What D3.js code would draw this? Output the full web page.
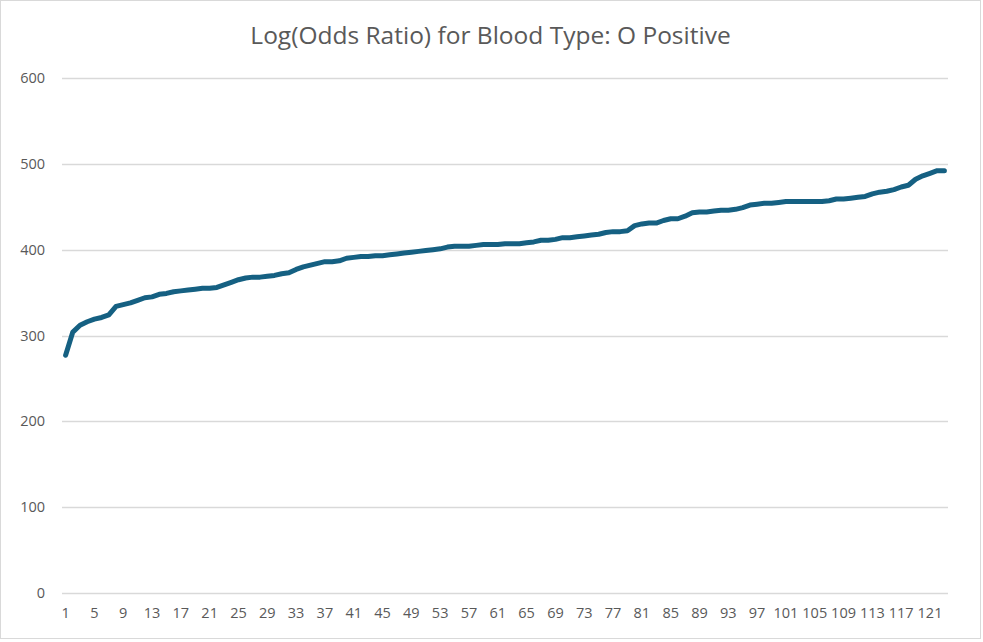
<!DOCTYPE html>
<html>
<head>
<meta charset="utf-8">
<script src="https://cdn.jsdelivr.net/npm/d3@7"></script>
<style>
  body { margin: 0; background: #fff; }
  text { font-family: "Open Sans", "Noto Sans", sans-serif; fill: #595959; }
</style>
</head>
<body>
<div id="vis"></div>
<script>
// chart values
var title = "Log(Odds Ratio) for Blood Type: O Positive";

var values = [
  277, 304, 312, 316, 319, 321, 324, 334, 336, 338,
  341, 344, 345, 348, 349, 351, 352, 353, 354, 355,
  355, 356, 359, 362, 365, 367, 368, 368, 369, 370,
  372, 373, 377, 380, 382, 384, 386, 386, 387, 390,
  391, 392, 392, 393, 393, 394, 395, 396, 397, 398,
  399, 400, 401, 403, 404, 404, 404, 405, 406, 406,
  406, 407, 407, 407, 408, 409, 411, 411, 412, 414,
  414, 415, 416, 417, 418, 420, 421, 421, 422, 428,
  430, 431, 431, 434, 436, 436, 439, 443, 444, 444,
  445, 446, 446, 447, 449, 452, 453, 454, 454, 455,
  456, 456, 456, 456, 456, 456, 457, 459, 459, 460,
  461, 462, 465, 467, 468, 470, 473, 475, 482, 486,
  489, 492, 492
];

var categories = values.map(function(d, i) { return i + 1; });
var yTicks = [0, 100, 200, 300, 400, 500, 600];

var W = 983, H = 642;
var margin = { top: 78, right: 35, bottom: 49, left: 62 };
var width = W - margin.left - margin.right;
var height = H - margin.top - margin.bottom;

var svg = d3.select("#vis").append("svg")
  .attr("width", W)
  .attr("height", H);

// outer chart border
svg.append("rect")
  .attr("x", 0.5).attr("y", 0.5)
  .attr("width", W - 3).attr("height", H - 4)
  .attr("fill", "#fff")
  .attr("stroke", "#d9d9d9");

svg.append("text")
  .attr("x", W / 2 - 1)
  .attr("y", 44)
  .attr("text-anchor", "middle")
  .style("font-size", "24.5px")
  .text(title);

var g = svg.append("g")
  .attr("transform", "translate(" + margin.left + "," + margin.top + ")");

var x = d3.scaleBand()
  .domain(categories)
  .range([0, width]);

var y = d3.scaleLinear()
  .domain([0, 600])
  .range([height, 0]);

// gridlines
g.selectAll(".grid")
  .data(yTicks)
  .enter().append("line")
  .attr("class", "grid")
  .attr("x1", 0)
  .attr("x2", width)
  .attr("y1", function(d) { return Math.round(y(d)) + 0.5; })
  .attr("y2", function(d) { return Math.round(y(d)) + 0.5; })
  .attr("stroke", "#d9d9d9")
  .attr("stroke-width", 1.3);

// y axis labels
var yAxis = d3.axisLeft(y).tickValues(yTicks).tickSize(0).tickPadding(17);
g.append("g").call(yAxis)
  .call(function(s) { s.select(".domain").remove(); })
  .selectAll("text")
  .style("font-size", "14.5px")
  .attr("fill", "#595959");

// x axis labels, every 4th category
var xAxis = d3.axisBottom(x)
  .tickValues(categories.filter(function(d) { return (d - 1) % 4 === 0; }))
  .tickSize(0)
  .tickPadding(15);
g.append("g")
  .attr("transform", "translate(0," + height + ")")
  .call(xAxis)
  .call(function(s) { s.select(".domain").remove(); })
  .selectAll("text")
  .style("font-size", "14.5px")
  .attr("fill", "#595959");

var line = d3.line()
  .x(function(d, i) { return x(categories[i]) + x.bandwidth() / 2; })
  .y(function(d) { return y(d); });

g.append("path")
  .datum(values)
  .attr("d", line)
  .attr("fill", "none")
  .attr("stroke", "#156082")
  .attr("stroke-width", 5)
  .attr("stroke-linejoin", "round")
  .attr("stroke-linecap", "round");
</script>
</body>
</html>
